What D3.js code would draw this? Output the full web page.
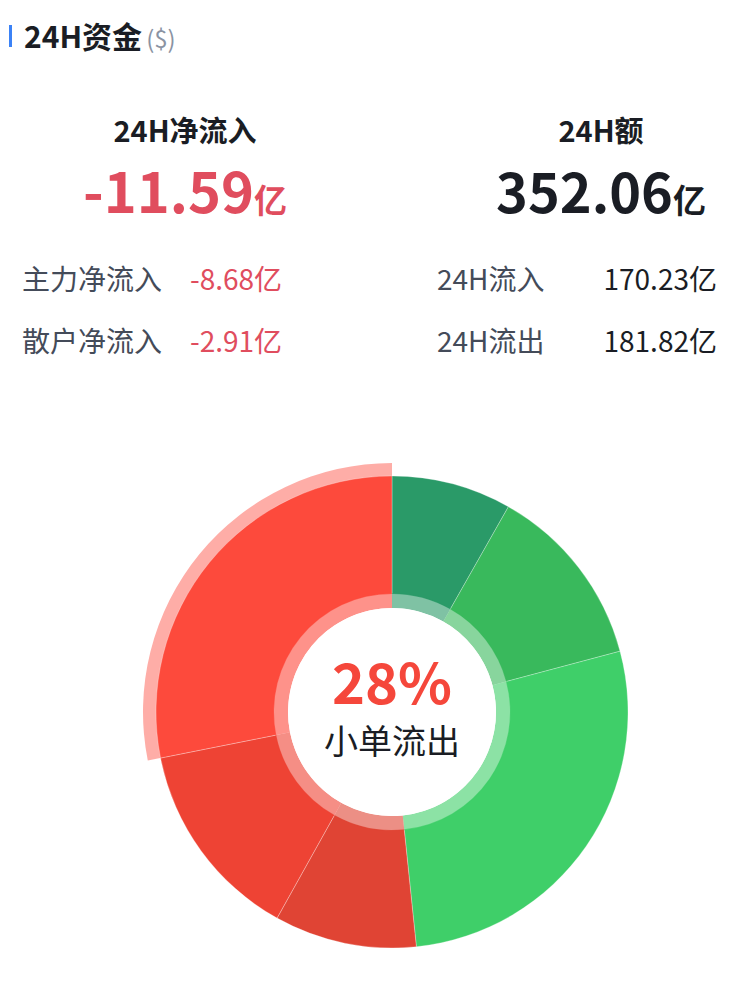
<!DOCTYPE html>
<html><head><meta charset="utf-8">
<script src="https://cdn.jsdelivr.net/npm/d3@7"></script>
<style>
body{margin:0;background:#fff;font-family:"Noto Sans CJK SC","Noto Sans",sans-serif;}
</style></head>
<body><svg id="c" width="750" height="1001"></svg>
<script>
// flow categories, clockwise from 12 o'clock
var labels = ['大单流入','中单流入','小单流入','大单流出','中单流出','小单流出']
var amounts = [28.9, 44.5, 96.8, 34.3, 48.5, 99.0]
var colors = ['#2a9a68','#39b95c','#3fcf69','#e04434','#ee4334','#fd4a3c']
var stats = [['主力净流入','-8.68亿'],['散户净流入','-2.91亿']]
var stats2 = [['24H流入','170.23亿'],['24H流出','181.82亿']]
var active = 5

var svg = d3.select('#c')
var F = '"Noto Sans CJK SC",sans-serif'

svg.append('rect').attr('x',9).attr('y',25).attr('width',3).attr('height',22).attr('fill','#3b82f6')
svg.append('text').attr('x',24).attr('y',48).attr('font-family',F).attr('font-size',30).attr('font-weight',700)
  .attr('fill','#1a1d24').text('24H资金')
  .append('tspan').attr('font-size',24).attr('font-weight',400).attr('fill','#8a93a3').attr('dx',4).text('($)')

svg.append('text').attr('x',185).attr('y',142).attr('text-anchor','middle').attr('font-family',F)
  .attr('font-size',29).attr('font-weight',700).attr('fill','#1a1d24').text('24H净流入')
svg.append('text').attr('x',185).attr('y',213).attr('text-anchor','middle').attr('font-family',F)
  .attr('font-weight',700).attr('fill','#e04d5e')
  .call(function(t){ t.append('tspan').attr('font-size',56).text('-11.59'); t.append('tspan').attr('font-size',33).text('亿') })
svg.append('text').attr('x',601).attr('y',142).attr('text-anchor','middle').attr('font-family',F)
  .attr('font-size',29).attr('font-weight',700).attr('fill','#1a1d24').text('24H额')
svg.append('text').attr('x',601).attr('y',213).attr('text-anchor','middle').attr('font-family',F)
  .attr('font-weight',700).attr('fill','#1a1d24')
  .call(function(t){ t.append('tspan').attr('font-size',54).text('352.06'); t.append('tspan').attr('font-size',33).text('亿') })

stats.forEach(function(s,i){
  var y = 290 + i*62
  svg.append('text').attr('x',22).attr('y',y).attr('font-family',F).attr('font-size',28).attr('fill','#444b59').text(s[0])
  svg.append('text').attr('x',190).attr('y',y).attr('font-family',F).attr('font-size',28).attr('fill','#e04d5e').text(s[1])
})
stats2.forEach(function(s,i){
  var y = 290 + i*62
  svg.append('text').attr('x',437).attr('y',y).attr('font-family',F).attr('font-size',28).attr('fill','#444b59').text(s[0])
  svg.append('text').attr('x',717).attr('y',y).attr('text-anchor','end').attr('font-family',F).attr('font-size',28).attr('fill','#1a1d24').text(s[1])
})

var g = svg.append('g').attr('transform','translate(392,712)')
var pie = d3.pie().sort(null).value(function(d){ return d })
var arcs = pie(amounts)
var outer = d3.arc().innerRadius(118).outerRadius(236)
var inner = d3.arc().innerRadius(104).outerRadius(119)
var hl = d3.arc().innerRadius(230).outerRadius(249)

g.append('path').datum(arcs[active]).attr('d',hl).attr('fill','#fd4a3c').attr('opacity',0.45)
g.selectAll('path.s').data(arcs).enter().append('path').attr('class','s')
  .attr('d',outer).attr('fill',function(d,i){ return colors[i] })
  .attr('stroke','#fff').attr('stroke-opacity',0.35).attr('stroke-width',0.8)
g.selectAll('path.r').data(arcs).enter().append('path').attr('class','r')
  .attr('d',inner).attr('fill',function(d,i){ return colors[i] }).attr('opacity',0.6)
g.append('circle').attr('r',104).attr('fill','#fff')

var pct = Math.round(amounts[active] / d3.sum(amounts) * 100)
g.append('text').attr('y',-8).attr('text-anchor','middle').attr('font-family',F).attr('font-size',56)
  .attr('font-weight',700).attr('fill','#f5473b').text(pct + '%')
g.append('text').attr('y',42).attr('text-anchor','middle').attr('font-family',F).attr('font-size',34)
  .attr('fill','#1a1d24').text(labels[active])
</script></body></html>
